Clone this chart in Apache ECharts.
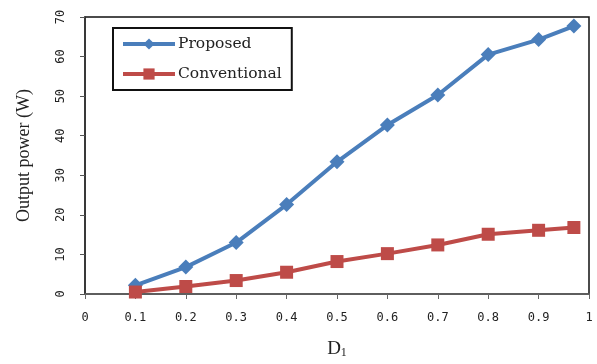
<!DOCTYPE html>
<html>
<head>
<meta charset="utf-8">
<script src="https://cdn.jsdelivr.net/npm/echarts@6/dist/echarts.min.js"></script>
<style>
  html, body { margin: 0; padding: 0; background: #fff; }
  #chart { width: 597px; height: 364px; }
</style>
</head>
<body>
<div id="chart"></div>
<script>
// Duty ratio D1 samples
const dutyRatios = [0.1, 0.2, 0.3, 0.4, 0.5, 0.6, 0.7, 0.8, 0.9, 0.97];
// Output power (W) for each converter
const proposedPower = [2.2, 6.8, 13.0, 22.6, 33.4, 42.7, 50.3, 60.5, 64.3, 67.7];
const conventionalPower = [0.5, 1.9, 3.4, 5.5, 8.2, 10.2, 12.4, 15.1, 16.1, 16.8];
const seriesNames = ['Proposed', 'Conventional'];

const pairs = (ys) => dutyRatios.map((x, i) => [x, ys[i]]);

const chart = echarts.init(document.getElementById('chart'));
const tickFont = { fontFamily: 'DejaVu Sans Mono', fontSize: 12, color: '#222' };
const blue = '#4A7EBB';
const red = '#BE4B48';

chart.setOption({
  animation: false,
  grid: {
    left: 85, right: 8, top: 17, bottom: 67,
    show: true, borderColor: '#111', borderWidth: 1.5
  },
  legend: {
    data: seriesNames,
    orient: 'vertical',
    left: 113, top: 28,
    padding: [8, 10, 8, 8],
    itemGap: 14,
    itemWidth: 52, itemHeight: 14,
    borderColor: '#111', borderWidth: 2,
    lineStyle: { width: 4 },
    textStyle: { fontFamily: 'DejaVu Serif', fontSize: 15.5, color: '#222', padding: [0, 0, 0, -2] }
  },
  xAxis: {
    type: 'value', min: 0, max: 1, interval: 0.1,
    name: '{d|D}{s|1}', nameLocation: 'middle', nameGap: 45,
    nameTextStyle: {
      rich: {
        d: { fontFamily: 'Liberation Serif', fontSize: 19, color: '#222' },
        s: { fontFamily: 'Liberation Serif', fontSize: 12, color: '#222', padding: [8, 0, 0, 0] }
      }
    },
    axisLine: { lineStyle: { color: '#666', width: 1.5 } },
    axisTick: { show: true, length: 5, lineStyle: { color: '#666' } },
    axisLabel: Object.assign({ margin: 18, formatter: v => String(+v.toFixed(1)) }, tickFont),
    splitLine: { show: false }
  },
  yAxis: {
    type: 'value', min: 0, max: 70, interval: 10,
    name: 'Output power (W)', nameLocation: 'middle', nameGap: 52,
    nameTextStyle: { fontFamily: 'Liberation Serif', fontSize: 18, color: '#222' },
    axisLine: { show: true, lineStyle: { color: '#333', width: 1.5 } },
    axisTick: { show: true, length: 5, lineStyle: { color: '#555' } },
    axisLabel: Object.assign({ rotate: 90, margin: 18 }, tickFont),
    splitLine: { show: false }
  },
  series: [
    {
      name: seriesNames[0], type: 'line', data: pairs(proposedPower),
      symbol: 'diamond', symbolSize: 15,
      lineStyle: { color: blue, width: 4 },
      itemStyle: { color: blue }
    },
    {
      name: seriesNames[1], type: 'line', data: pairs(conventionalPower),
      symbol: 'rect', symbolSize: 13,
      lineStyle: { color: red, width: 4 },
      itemStyle: { color: red }
    }
  ]
});
</script>
</body>
</html>
